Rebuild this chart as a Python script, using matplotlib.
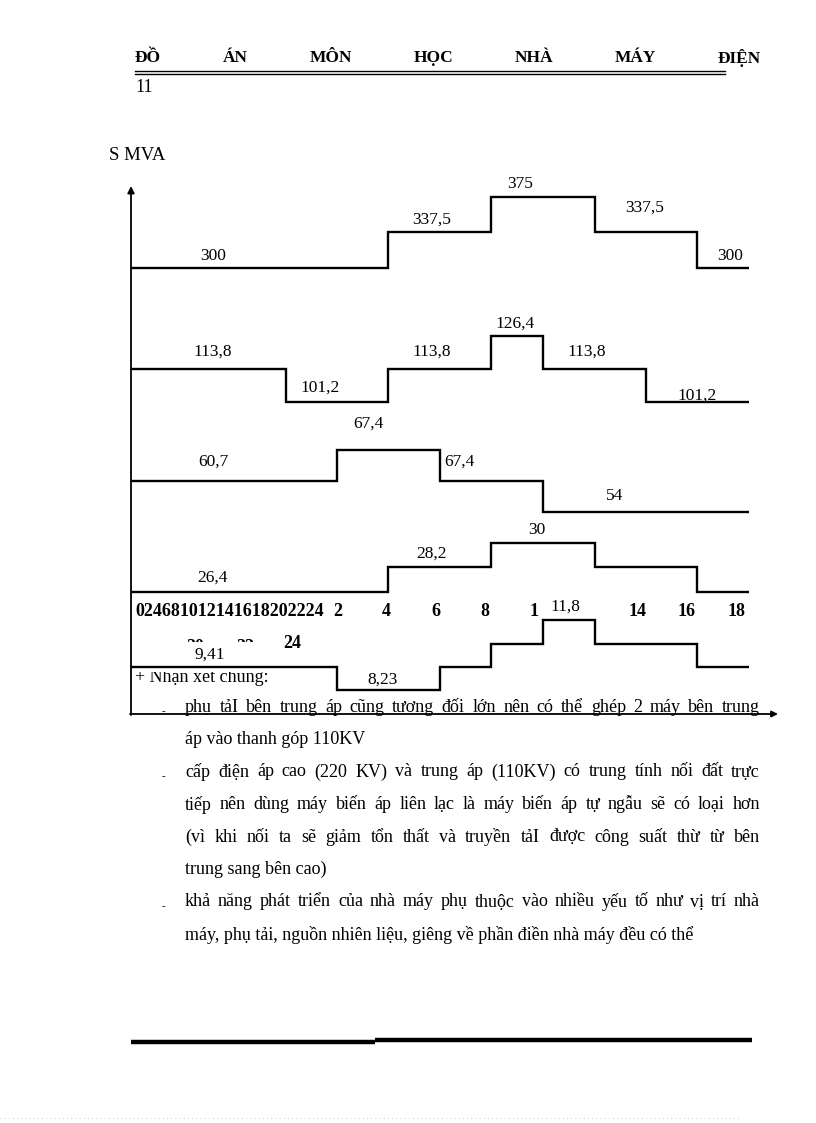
import matplotlib
matplotlib.use("Agg")
import matplotlib.pyplot as plt
from matplotlib.patches import Rectangle

# ---------------- data ----------------
hours_s1 = [0, 10, 14, 18, 22, 24]
vals_s1 = [300, 337.5, 375, 337.5, 300]
labels_s1 = ["300", "337,5", "375", "337,5", "300"]

hours_s2 = [0, 6, 10, 14, 16, 20, 24]
vals_s2 = [113.8, 101.2, 113.8, 126.4, 113.8, 101.2]
labels_s2 = ["113,8", "101,2", "113,8", "126,4", "113,8", "101,2"]

hours_s3 = [0, 8, 12, 16, 24]
vals_s3 = [60.7, 67.4, 60.7, 54]
labels_s3 = ["60,7", "67,4", "67,4", "54"]

hours_s4 = [0, 10, 14, 18, 22, 24]
vals_s4 = [26.4, 28.2, 30, 28.2, 26.4]
labels_s4 = ["26,4", "28,2", "30"]

hours_s5 = [0, 8, 12, 14, 16, 18, 22, 24]
vals_s5 = [9.41, 8.23, 9.41, 10.6, 11.8, 10.6, 9.41]
labels_s5 = ["9,41", "8,23", "11,8"]

tick_row_labels = ["2", "4", "6", "8", "1", "14", "16", "18"]

header_words = ["ĐỒ", "ÁN", "MÔN", "HỌC", "NHÀ", "MÁY", "ĐIỆN"]
body_lines = [
    ("phụ tảI bên trung áp cũng tương đối lớn nên có thể ghép 2 máy bên trung", True, True),
    ("áp vào thanh góp 110KV", False, False),
    ("cấp điện áp cao (220 KV) và trung áp (110KV) có trung tính nối đất trực", True, True),
    ("tiếp nên dùng máy biến áp liên lạc là máy biến áp tự ngẫu sẽ có loại hơn", True, False),
    ("(vì khi nối ta sẽ giảm tổn thất và truyền tảI được công suất thừ từ bên", True, False),
    ("trung sang bên cao)", False, False),
    ("khả năng phát triển của nhà máy phụ thuộc vào nhiều yếu tố như vị trí nhà", True, True),
    ("máy, phụ tải, nguồn nhiên liệu, giêng về phần điền nhà máy đều có thể", False, False),
]

SERIF = ["Liberation Serif", "DejaVu Serif"]
plt.rcParams["font.family"] = SERIF

W, H = 816, 1123
fig = plt.figure(figsize=(W / 100, H / 100), dpi=100)
page = fig.add_axes([0, 0, 1, 1])
page.set_xlim(0, W)
page.set_ylim(H, 0)
page.axis("off")

# chart axes: x in hours, y in page rows (schematic layout)
X0, X1, YB, YT = 131, 752, 714, 188
PXH = 25.75
chart = fig.add_axes([X0 / W, 1 - YB / H, (X1 - X0) / W, (YB - YT) / H])
chart.set_xlim(0, (X1 - X0) / PXH)
chart.set_ylim(YB, YT)
chart.axis("off")
chart.patch.set_alpha(0)


def hx(px):
    return (px - X0) / PXH


series = [
    (hours_s1, vals_s1, 268, 300, 0.947),
    (hours_s2, vals_s2, 369, 113.8, 2.65),
    (hours_s3, vals_s3, 481, 60.7, 4.6),
    (hours_s4, vals_s4, 592, 26.4, 13.75),
    (hours_s5, vals_s5, 667, 9.41, 19.6),
]
for hrs, vals, base, v0, k in series:
    rows = [base - k * (v - v0) for v in vals]
    chart.stairs(rows, edges=hrs, baseline=None, color="black", lw=1.7, zorder=3)

lab_fs = 12.5
label_pos = [
    (labels_s1, [(213, 256), (432, 220), (520, 184), (645, 208), (730, 256)]),
    (labels_s2, [(213, 352), (320, 388), (432, 352), (515, 324), (587, 352), (697, 396)]),
    (labels_s3, [(213, 462), (368, 424), (459, 462), (615, 496)]),
    (labels_s4, [(213, 578), (432, 554), (537, 530)]),
]
for labs, pos in label_pos:
    for lab, (px, py) in zip(labs, pos):
        chart.text(hx(px), py, lab, ha="center", va="center", fontsize=lab_fs, zorder=4)

# tick row (bold)
page.text(135, 612, "024681012141618202224", ha="left", va="center",
          fontsize=13, fontweight="bold")
for lab, px in zip(tick_row_labels, [338, 386, 436, 485, 534, 638, 687, 737]):
    page.text(px, 612, lab, ha="center", va="center", fontsize=13, fontweight="bold")
page.text(292, 643, "24", ha="center", va="center", fontsize=13, fontweight="bold", zorder=3)
# fragments of "20" and "22", mostly hidden behind the chart
page.text(195, 647, "20", ha="center", va="center", fontsize=13, fontweight="bold", zorder=1)
page.text(245, 647, "22", ha="center", va="center", fontsize=13, fontweight="bold", zorder=1)
page.text(135, 677, "+ Nhận xét chung:", ha="left", va="center", fontsize=13, zorder=1)
page.add_patch(Rectangle((132, 642), 150, 30, facecolor="white", edgecolor="none", zorder=2))

# series 5 labels
chart.text(hx(210), 655, labels_s5[0], ha="center", va="center", fontsize=lab_fs, zorder=4)
chart.text(hx(383), 680, labels_s5[1], ha="center", va="center", fontsize=lab_fs, zorder=4)
chart.text(hx(565), 607, labels_s5[2], ha="center", va="center", fontsize=lab_fs, zorder=4,
           bbox=dict(boxstyle="square,pad=0.05", fc="white", ec="none"))

# axes arrows
page.annotate("", xy=(131, 186), xytext=(131, 715),
              arrowprops=dict(arrowstyle="-|>", lw=1.3, color="black", mutation_scale=10,
                              shrinkA=0, shrinkB=0))
page.annotate("", xy=(778, 714), xytext=(130, 714),
              arrowprops=dict(arrowstyle="-|>", lw=1.3, color="black", mutation_scale=9,
                              shrinkA=0, shrinkB=0))
page.text(137, 155, "S MVA", ha="center", va="center", fontsize=13.5)

# heading
renderer = fig.canvas.get_renderer()


def justify(words, x0, x1, y, fs, weight="normal"):
    ts = [page.text(0, y, w, ha="left", va="center", fontsize=fs, fontweight=weight)
          for w in words]
    widths = [t.get_window_extent(renderer).width for t in ts]
    gap = (x1 - x0 - sum(widths)) / (len(ts) - 1)
    x = x0
    for t, w in zip(ts, widths):
        t.set_x(x)
        x += w + gap


justify(header_words, 135, 761, 58, 12.5, "bold")
page.plot([135, 725], [71, 71], color="black", lw=1.0)
page.plot([135, 725], [73.5, 73.5], color="black", lw=1.0)
page.text(135, 87, "11", ha="left", va="center", fontsize=13)

# body text
body_fs = 13
y = 707
for line, just, bullet in body_lines:
    if just:
        justify(line.split(" "), 185, 760, y, body_fs)
    else:
        page.text(185, y, line, ha="left", va="center", fontsize=body_fs)
    if bullet:
        page.text(163, y + 5, "-", ha="center", va="center", fontsize=8)
    y += 32.5

# footer
page.plot([131, 375], [1042, 1042], color="black", lw=3.2, solid_capstyle="butt")
page.plot([375, 752], [1040, 1040], color="black", lw=3.2, solid_capstyle="butt")
page.plot([0, 740], [1118, 1118], color="#bbbbbb", lw=0.6, ls=(0, (1, 4)))

fig.savefig("out.png", dpi=100)
